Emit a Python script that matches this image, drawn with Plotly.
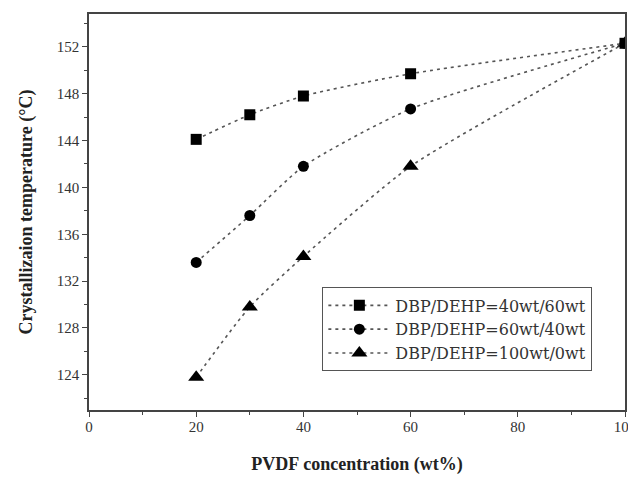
import plotly.graph_objects as go

pvdf = [20, 30, 40, 60, 100]
s1_name = "DBP/DEHP=40wt/60wt"
s1_vals = [144.1, 146.2, 147.8, 149.7, 152.3]
s2_name = "DBP/DEHP=60wt/40wt"
s2_vals = [133.6, 137.6, 141.8, 146.7, 152.3]
s3_name = "DBP/DEHP=100wt/0wt"
s3_vals = [123.8, 129.8, 134.1, 141.8, 152.3]

x_ticks = [0, 20, 40, 60, 80, 100]
y_ticks = [124, 128, 132, 136, 140, 144, 148, 152]

font_fam = "Liberation Serif, Times New Roman, serif"

fig = go.Figure()
series = [(s3_name, s3_vals, "triangle-up", 14), (s2_name, s2_vals, "circle", 11), (s1_name, s1_vals, "square", 11)]
for name, vals, sym, sz in series:
    fig.add_trace(go.Scatter(
        x=pvdf, y=vals, name=name, mode="lines+markers",
        line=dict(color="#555555", width=1.6, dash="3px,4px", shape="spline", smoothing=0.6),
        marker=dict(symbol=sym, size=sz, color="black"),
        cliponaxis=True,
    ))

axis_common = dict(
    showline=True, linecolor="#444444", linewidth=1.5, mirror=True,
    ticks="outside", ticklen=5, tickwidth=1, tickcolor="#444444",
    showgrid=False, zeroline=False, automargin=False, ticklabeloverflow="allow",
    tickfont=dict(family=font_fam, size=15, color="#333333"),
)

fig.update_xaxes(
    range=[0, 100], tickvals=x_ticks, ticklabelstandoff=-3,
    minor=dict(dtick=10, ticks="outside", ticklen=3, tickcolor="#444444"),
    title=dict(text="<b>PVDF concentration (wt%)</b>", font=dict(family=font_fam, size=18, color="#222222"), standoff=24),
    **axis_common,
)
fig.update_yaxes(
    range=[121.0, 154.8], tickvals=y_ticks,
    minor=dict(tick0=122, dtick=4, ticks="outside", ticklen=3, tickcolor="#444444"),
    title=dict(text="<b>Crystallizaion temperature (°C)</b>", font=dict(family=font_fam, size=18, color="#222222"), standoff=19),
    **axis_common,
)

fig.update_layout(
    width=628, height=470,
    margin=dict(l=81, r=11, t=6, b=68),
    plot_bgcolor="white", paper_bgcolor="white",
    legend=dict(
        x=0.435, y=0.31, xanchor="left", yanchor="top",
        bordercolor="#555555", borderwidth=1.2, bgcolor="white",
        font=dict(family="DejaVu Serif, serif", size=16, color="#333333"),
        tracegroupgap=0, itemwidth=62, traceorder="reversed",
    ),
)

fig.write_html("out.html")
